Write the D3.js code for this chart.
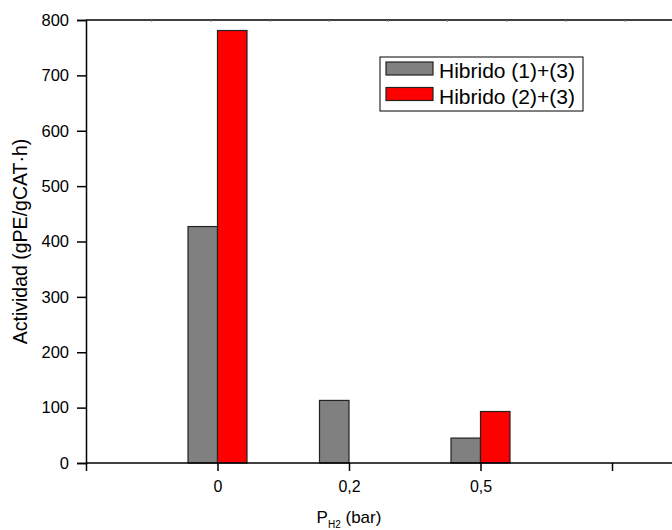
<!DOCTYPE html>
<html>
<head>
<meta charset="utf-8">
<script src="https://cdn.jsdelivr.net/npm/d3@7"></script>
<style>
  body { margin: 0; background: #fff; }
  text { font-family: Arial, "Liberation Sans", sans-serif; fill: #000; }
</style>
</head>
<body>
<svg id="chart" width="672" height="530"></svg>
<script>
// pressure categories and the two series
var categories = ["0", "0,2", "0,5"];
var hibrido13 = [427, 113, 45];
var hibrido23 = [781, 0, 93];
var seriesNames = ["Hibrido (1)+(3)", "Hibrido (2)+(3)"];
var seriesColors = ["#808080", "#ff0000"];
var yTicks = [0, 100, 200, 300, 400, 500, 600, 700, 800];

var svg = d3.select("#chart");

var plotLeft = 86, plotTop = 20, plotBottom = 463;

// x as a linear position: -1 is the empty slot at the left axis
var x = d3.scaleLinear().domain([-1, 0]).range([plotLeft, 217.5]);
var y = d3.scaleLinear().domain([0, 800]).range([plotBottom, plotTop]);
var barW = 29.5;

// top frame line with tiny minor ticks
svg.append("line")
  .attr("x1", plotLeft).attr("x2", 680)
  .attr("y1", plotTop).attr("y2", plotTop)
  .attr("stroke", "#000").attr("stroke-width", 1.5);
svg.selectAll(".minor")
  .data(d3.range(-0.5, 3.5, 0.45))
  .enter().append("line")
  .attr("x1", function(d){return x(d)}).attr("x2", function(d){return x(d)})
  .attr("y1", plotTop).attr("y2", plotTop + 2)
  .attr("stroke", "#888").attr("stroke-width", 1);

// bars
var groups = [hibrido13, hibrido23];
groups.forEach(function(vals, s){
  svg.selectAll(".bar" + s)
    .data(vals)
    .enter().append("rect")
    .attr("x", function(d, i){return x(i) + (s - 1) * barW})
    .attr("y", function(d){return y(d)})
    .attr("width", barW)
    .attr("height", function(d){return plotBottom - y(d)})
    .attr("fill", seriesColors[s])
    .attr("stroke", d => d > 0 ? "#222" : "none")
    .attr("stroke-width", 1.2);
});

// y axis
var yAxis = d3.axisLeft(y).tickValues(yTicks).tickSize(9).tickPadding(8);
var gy = svg.append("g").attr("transform", "translate(" + plotLeft + ",0)").call(yAxis);
gy.select(".domain").attr("stroke-width", 1.5);
gy.selectAll(".tick line").attr("stroke-width", 1.5);
gy.selectAll("text").style("font-size", "16.5px");

// x axis
var xAxis = d3.axisBottom(x).tickValues([-1, 0, 1, 2, 3])
  .tickFormat(function(d){return d >= 0 && d < categories.length ? categories[d] : ""})
  .tickSize(8).tickPadding(10);
var gx = svg.append("g").attr("transform", "translate(0," + plotBottom + ")").call(xAxis);
gx.select(".domain").attr("d", "M" + plotLeft + ",0H680").attr("stroke-width", 1.5);
gx.selectAll(".tick line").attr("stroke-width", 1.5);
gx.selectAll("text").style("font-size", "16px");

// axis titles
svg.append("text")
  .attr("transform", "translate(27," + ((plotTop + plotBottom) / 2) + ") rotate(-90)")
  .attr("text-anchor", "middle")
  .style("font-size", "19.5px")
  .text("Actividad (gPE/gCAT·h)");

var xt = svg.append("text")
  .attr("x", x(1)).attr("y", 523)
  .attr("text-anchor", "middle")
  .style("font-size", "17px");
xt.append("tspan").text("P");
xt.append("tspan").attr("dy", 5).style("font-size", "10px").text("H2");
xt.append("tspan").attr("dy", -5).text(" (bar)");

// legend
var lg = svg.append("g");
lg.append("rect")
  .attr("x", 380).attr("y", 57).attr("width", 203).attr("height", 54)
  .attr("fill", "#fff").attr("stroke", "#000").attr("stroke-width", 1);
seriesNames.forEach(function(name, i){
  lg.append("rect")
    .attr("x", 386).attr("y", 62 + i * 25.5).attr("width", 47).attr("height", 13)
    .attr("fill", seriesColors[i]).attr("stroke", "#222").attr("stroke-width", 1.2);
  lg.append("text")
    .attr("x", 439).attr("y", 78 + i * 25.5)
    .style("font-size", "21px")
    .text(name);
});
</script>
</body>
</html>
